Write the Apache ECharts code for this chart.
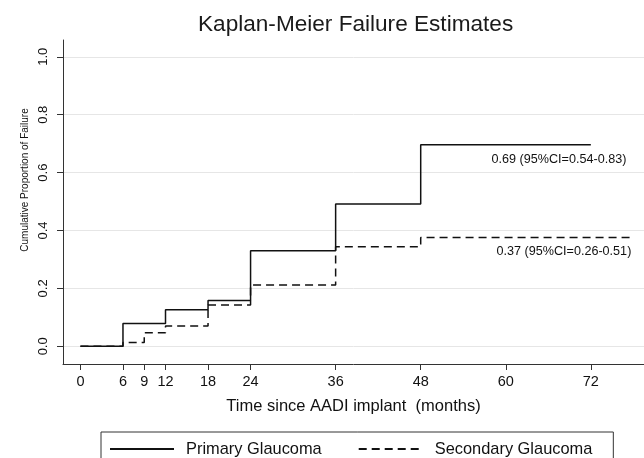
<!DOCTYPE html>
<html>
<head>
<meta charset="utf-8">
<script src="https://cdn.jsdelivr.net/npm/echarts@6/dist/echarts.min.js"></script>
<style>
  html, body { margin: 0; padding: 0; background: #fff; }
  #chart { width: 644px; height: 458px; }
</style>
</head>
<body>
<div id="chart"></div>
<script>
// step times (months) and cumulative failure for each group
const primaryTimes = [0, 6, 12, 18, 24, 36, 48, 72];
const primaryValues = [0, 0.079, 0.126, 0.158, 0.330, 0.492, 0.696, 0.696];
const secondaryTimes = [0, 6, 9, 12, 18, 24, 36, 48, 78];
const secondaryValues = [0, 0.013, 0.047, 0.070, 0.143, 0.212, 0.344, 0.376, 0.376];

const xTicks = [0, 6, 9, 12, 18, 24, 36, 48, 60, 72];
const yTicks = [0, 0.2, 0.4, 0.6, 0.8, 1.0];

const seriesNames = ['Primary Glaucoma', 'Secondary Glaucoma'];
const primaryNote = '0.69 (95%CI=0.54-0.83)';
const secondaryNote = '0.37 (95%CI=0.26-0.51)';

const FONT = '"Liberation Sans", Arial, Helvetica, sans-serif';

const chart = echarts.init(document.getElementById('chart'));

const toPairs = (xs, ys) => xs.map((x, i) => [x, ys[i]]);

const option = {
    animation: false,
    backgroundColor: '#fff',
    textStyle: { fontFamily: FONT },
    title: {
        text: 'Kaplan-Meier Failure Estimates',
        left: 198,
        top: 13,
        padding: 0,
        textStyle: { fontFamily: FONT, fontSize: 22.6, fontWeight: 'normal', color: '#1a1a1a' },
    },
    grid: { left: 63, right: 0, top: 40, bottom: 94 },
    legend: {
        data: seriesNames,
        left: 101,
        top: 432,
        orient: 'horizontal',
        itemWidth: 64,
        itemHeight: 14,
        itemGap: 36,
        padding: [9, 21, 10, 8],
        borderColor: '#333',
        borderWidth: 1,
        borderRadius: 0,
        itemStyle: { opacity: 0 },
        textStyle: { fontFamily: FONT, fontSize: 16.4, color: '#111', padding: [0, 0, 0, 7] },
    },
    xAxis: {
        type: 'value',
        min: -2.46,
        max: 79.5,
        name: 'Time since AADI implant  (months)',
        nameLocation: 'middle',
        nameGap: 34,
        nameTextStyle: { fontFamily: FONT, fontSize: 16.5, color: '#111' },
        axisLine: { show: true, onZero: false, lineStyle: { color: '#333', width: 1 } },
        axisTick: { show: true, inside: false, length: 6, customValues: xTicks, lineStyle: { color: '#333' } },
        axisLabel: { customValues: xTicks, margin: 10, fontSize: 14.5, color: '#111', fontFamily: FONT },
        splitLine: { show: false },
    },
    yAxis: {
        type: 'value',
        min: -0.061,
        max: 1.058,
        axisLine: { show: true, onZero: false, lineStyle: { color: '#333', width: 1 } },
        axisTick: { show: true, inside: false, length: 6, customValues: yTicks, lineStyle: { color: '#333' } },
        axisLabel: {
            customValues: yTicks,
            rotate: 90,
            margin: 13,
            fontSize: 13,
            color: '#111',
            fontFamily: FONT,
            formatter: v => v.toFixed(1),
        },
        splitLine: { show: true, lineStyle: { color: '#e6e6e6', width: 1 } },
    },
    graphic: [
        {
            type: 'text',
            x: 25,
            y: 180,
            rotation: Math.PI / 2,
            style: {
                text: 'Cumulative Proportion of Failure',
                font: '10px ' + FONT,
                fill: '#111',
                textAlign: 'center',
                textVerticalAlign: 'middle',
            },
        },
    ],
    series: [
        {
            name: seriesNames[0],
            type: 'line',
            step: 'end',
            symbol: 'none',
            data: toPairs(primaryTimes, primaryValues),
            lineStyle: { color: '#111', width: 1.5, type: 'solid' },
            itemStyle: { color: '#111' },
            markPoint: {
                symbol: 'circle',
                symbolSize: 0,
                label: {
                    show: true,
                    position: 'inside',
                    align: 'left',
                    verticalAlign: 'middle',
                    fontFamily: FONT,
                    fontSize: 12.6,
                    color: '#111',
                    formatter: primaryNote,
                },
                data: [{ coord: [58.0, 0.644] }],
            },
        },
        {
            name: seriesNames[1],
            type: 'line',
            step: 'end',
            symbol: 'none',
            data: toPairs(secondaryTimes, secondaryValues),
            lineStyle: { color: '#111', width: 1.5, type: [8, 5] },
            itemStyle: { color: '#111' },
            markPoint: {
                symbol: 'circle',
                symbolSize: 0,
                label: {
                    show: true,
                    position: 'inside',
                    align: 'left',
                    verticalAlign: 'middle',
                    fontFamily: FONT,
                    fontSize: 12.6,
                    color: '#111',
                    formatter: secondaryNote,
                },
                data: [{ coord: [58.7, 0.328] }],
            },
        },
    ],
};

chart.setOption(option);
</script>
</body>
</html>
